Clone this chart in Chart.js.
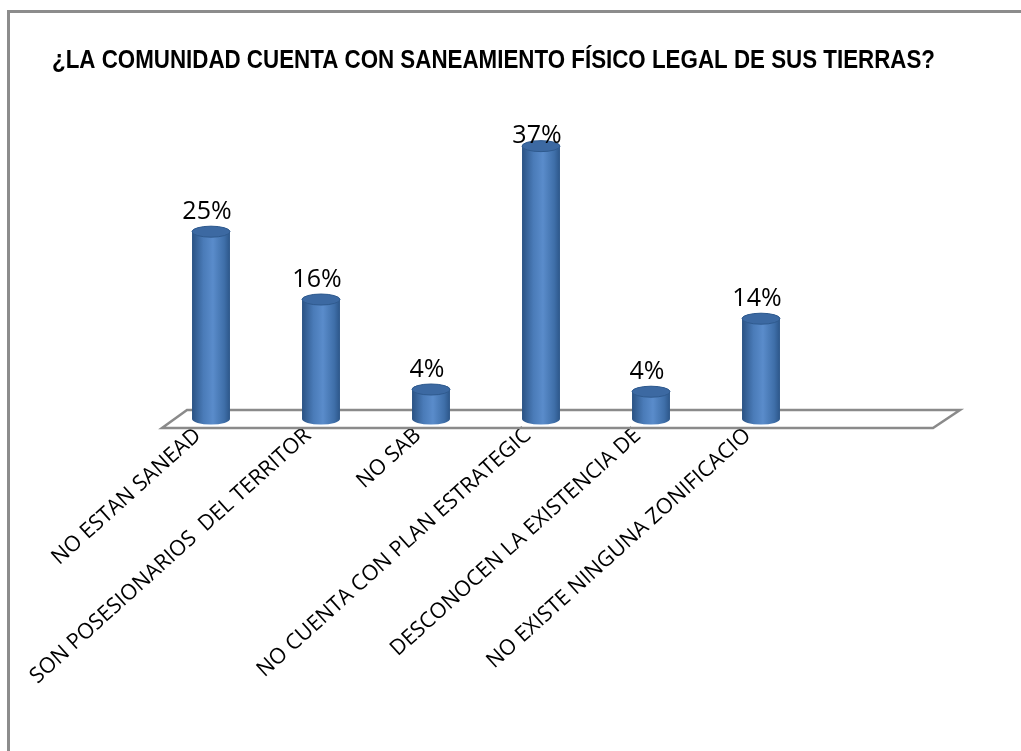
<!DOCTYPE html>
<html>
<head>
<meta charset="utf-8">
<script src="https://cdn.jsdelivr.net/npm/chart.js@4"></script>
<style>
  html, body { margin: 0; padding: 0; background: #fff; }
  #wrap { width: 1021px; height: 751px; position: relative; }
</style>
</head>
<body>
<div id="wrap"><canvas id="chart" width="1021" height="751"></canvas></div>
<script>
// ---------- data ----------
const chartTitle = '¿LA COMUNIDAD CUENTA CON SANEAMIENTO FÍSICO LEGAL DE SUS TIERRAS?';
const categories = [
    'NO ESTAN SANEAD',
    'SON POSESIONARIOS  DEL TERRITOR',
    'NO SAB',
    'NO CUENTA CON PLAN ESTRATEGIC',
    'DESCONOCEN LA EXISTENCIA DE',
    'NO EXISTE NINGUNA ZONIFICACIO'
];
const percents = [25.4, 16.2, 4.0, 37.0, 3.7, 13.6];

// ---------- helper: one cylinder ----------
function drawCylinder(ctx, x, top, base, w) {
    const rx = w / 2, ry = 5.5;
    const grad = ctx.createLinearGradient(x - rx, 0, x + rx, 0);
    grad.addColorStop(0, '#2a5283');
    grad.addColorStop(0.3, '#4a7bb8');
    grad.addColorStop(0.55, '#5a8ccb');
    grad.addColorStop(0.85, '#3f6fa9');
    grad.addColorStop(1, '#2c5689');
    ctx.beginPath();
    ctx.moveTo(x - rx, top);
    ctx.lineTo(x - rx, base);
    ctx.ellipse(x, base, rx, ry, 0, Math.PI, 0, true);
    ctx.lineTo(x + rx, top);
    ctx.ellipse(x, top, rx, ry, 0, 0, Math.PI, true);
    ctx.closePath();
    ctx.fillStyle = grad;
    ctx.fill();
    // top cap
    ctx.beginPath();
    ctx.ellipse(x, top, rx, ry, 0, 0, Math.PI * 2);
    ctx.fillStyle = '#3c69a2';
    ctx.fill();
    ctx.strokeStyle = '#2f5a8e';
    ctx.lineWidth = 1;
    ctx.stroke();
}

// ---------- plugin: frame, title, labels, floor, cylinders ----------
const decor = {
    id: 'decor',
    beforeDraw(chart) {
        const c = chart.ctx;
        c.save();
        c.fillStyle = '#fff';
        c.fillRect(0, 0, chart.width, chart.height);
        c.strokeStyle = '#8c8c8c';
        c.lineWidth = 3;
        c.beginPath();
        c.moveTo(8.5, chart.height);
        c.lineTo(8.5, 11.5);
        c.lineTo(chart.width, 11.5);
        c.stroke();
        // title (narrow bold look)
        c.fillStyle = '#000';
        c.font = 'bold 25px "Liberation Sans", Arial, sans-serif';
        c.textAlign = 'left';
        c.textBaseline = 'alphabetic';
        const tw = c.measureText(chartTitle).width;
        c.translate(52, 68);
        c.scale(883 / tw, 1);
        c.fillText(chartTitle, 0, 0);
        c.restore();
    },
    beforeDatasetsDraw(chart) {
        const c = chart.ctx;
        const xs = chart.scales.x;
        const area = chart.chartArea;
        c.save();
        // category labels (rotated)
        c.fillStyle = '#000';
        c.font = '21.5px "Open Sans", sans-serif';
        c.textAlign = 'right';
        c.textBaseline = 'alphabetic';
        categories.forEach((lab, i) => {
            const px = xs.getPixelForValue(i);
            c.save();
            c.translate(px - 9, area.bottom + 18);
            c.rotate(-42 * Math.PI / 180);
            c.fillText(lab, 0, 0);
            c.restore();
        });
        // floor
        const b = area.bottom;
        c.beginPath();
        c.moveTo(area.left + 31, b - 9);
        c.lineTo(area.right + 144, b - 9);
        c.lineTo(area.right + 117, b + 9);
        c.lineTo(area.left + 6, b + 9);
        c.closePath();
        c.strokeStyle = '#8a8a8a';
        c.lineWidth = 2.5;
        c.stroke();
        c.restore();
    },
    afterDatasetsDraw(chart) {
        const c = chart.ctx;
        const area = chart.chartArea;
        const meta = chart.getDatasetMeta(0);
        c.save();
        meta.data.forEach((bar, i) => {
            drawCylinder(c, bar.x, bar.y, bar.base, bar.width);
            c.fillStyle = '#000';
            c.font = '25px "Open Sans", sans-serif';
            c.textAlign = 'center';
            c.textBaseline = 'alphabetic';
            const ty = Math.max(bar.y - 12.5, area.top + 19);
            c.fillText(Math.round(percents[i]) + '%', bar.x - 4, ty);
        });
        c.restore();
    }
};

// ---------- chart ----------
const ctx = document.getElementById('chart').getContext('2d');
const chart = new Chart(ctx, {
    type: 'bar',
    data: {
        labels: categories,
        datasets: [{
            data: percents,
            backgroundColor: 'rgba(0,0,0,0)',
            borderWidth: 0,
            categoryPercentage: 1,
            barPercentage: 0.345
        }]
    },
    options: {
        responsive: false,
        animation: false,
        layout: { padding: { left: 156, right: 205, top: 124, bottom: 332 } },
        plugins: {
            legend: { display: false },
            title: { display: false },
            tooltip: { enabled: false }
        },
        scales: {
            x: { display: false, offset: true, grid: { display: false } },
            y: { display: false, min: 0, max: 40, grid: { display: false } }
        }
    },
    plugins: [decor]
});
</script>
</body>
</html>
